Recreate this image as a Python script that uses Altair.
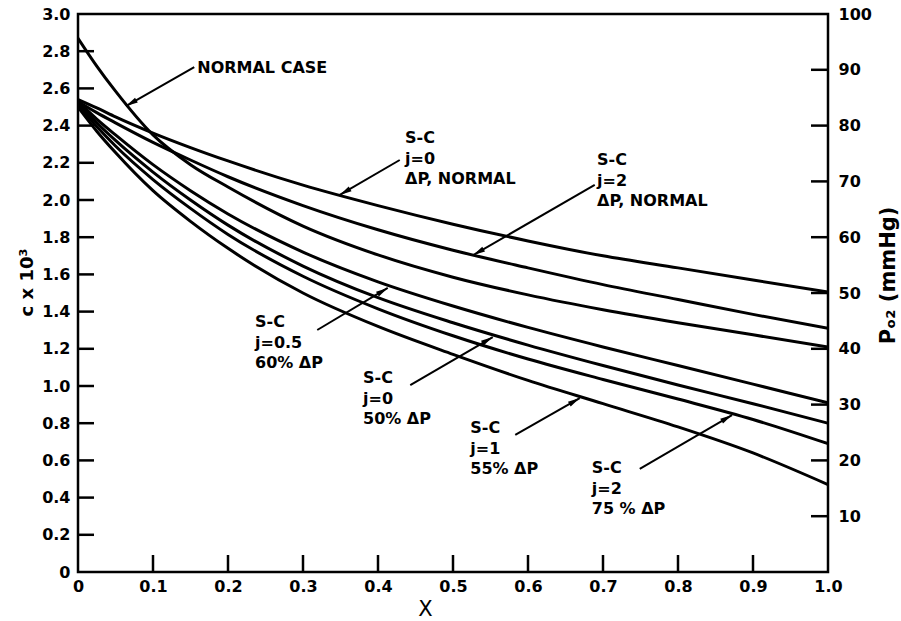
import math

import altair as alt
import pandas as pd

FONT = "DejaVu Sans"
W, H = 750, 558          # plot area in px
X_MAX, C_MAX = 1.0, 3.0

# ---- curve data: concentration c (x 10^3) along X -------------------------
X_POS = [0, 0.025, 0.05, 0.1, 0.15, 0.2, 0.3, 0.4, 0.5, 0.6, 0.7, 0.8, 0.9, 1.0]

SC_J0_NORMAL = [2.54, 2.495, 2.447, 2.36, 2.282, 2.21, 2.08, 1.97, 1.87, 1.78, 1.70, 1.635, 1.57, 1.505]
SC_J2_NORMAL = [2.53, 2.47, 2.415, 2.31, 2.215, 2.125, 1.97, 1.84, 1.73, 1.635, 1.545, 1.465, 1.385, 1.31]
NORMAL_CASE = [2.87, 2.72, 2.585, 2.35, 2.19, 2.07, 1.86, 1.705, 1.585, 1.49, 1.41, 1.34, 1.275, 1.21]
SC_J05_60 = [2.53, 2.435, 2.35, 2.19, 2.05, 1.925, 1.72, 1.56, 1.43, 1.315, 1.21, 1.11, 1.01, 0.91]
SC_J0_50 = [2.52, 2.415, 2.32, 2.15, 2.00, 1.865, 1.645, 1.475, 1.34, 1.22, 1.11, 1.005, 0.905, 0.80]
SC_J2_75 = [2.51, 2.395, 2.29, 2.11, 1.955, 1.815, 1.59, 1.415, 1.27, 1.145, 1.035, 0.93, 0.82, 0.69]
SC_J1_55 = [2.50, 2.37, 2.255, 2.05, 1.885, 1.74, 1.50, 1.32, 1.17, 1.03, 0.905, 0.78, 0.64, 0.47]

CURVE_NAMES = ["S-C j=0 dP normal", "S-C j=2 dP normal", "normal case",
               "S-C j=0.5 60% dP", "S-C j=0 50% dP", "S-C j=2 75% dP", "S-C j=1 55% dP"]
CURVE_VALUES = [SC_J0_NORMAL, SC_J2_NORMAL, NORMAL_CASE,
                SC_J05_60, SC_J0_50, SC_J2_75, SC_J1_55]

# ---- axis ticks --------------------------------------------------------------
X_TICKS = [0.0, 0.1, 0.2, 0.3, 0.4, 0.5, 0.6, 0.7, 0.8, 0.9, 1.0]
C_TICKS = [0.0, 0.2, 0.4, 0.6, 0.8, 1.0, 1.2, 1.4, 1.6, 1.8, 2.0,
           2.2, 2.4, 2.6, 2.8, 3.0]
P_TICKS = [10, 20, 30, 40, 50, 60, 70, 80, 90, 100]

# ---- annotations ---------------------------------------------------------------
LABEL_TEXT = [
    "NORMAL CASE",
    "S-C\nj=0\nΔP, NORMAL",
    "S-C\nj=2\nΔP, NORMAL",
    "S-C\nj=0.5\n60% ΔP",
    "S-C\nj=0\n50% ΔP",
    "S-C\nj=1\n55% ΔP",
    "S-C\nj=2\n75 % ΔP",
]
LABEL_X = [0.159, 0.436, 0.692, 0.236, 0.380, 0.523, 0.685]
LABEL_C = [2.683, 2.306, 2.188, 1.317, 1.016, 0.747, 0.532]

ARROW_X_TAIL = [0.155, 0.429, 0.689, 0.319, 0.443, 0.583, 0.749]
ARROW_C_TAIL = [2.715, 2.215, 2.081, 1.301, 1.005, 0.737, 0.554]
ARROW_X_TIP = [0.064, 0.349, 0.527, 0.413, 0.553, 0.669, 0.872]
ARROW_C_TIP = [2.505, 2.027, 1.704, 1.527, 1.263, 0.935, 0.844]

# ---- tables ------------------------------------------------------------------------
curve_rows = []
for name, vals in zip(CURVE_NAMES, CURVE_VALUES):
    for xv, cv in zip(X_POS, vals):
        curve_rows.append({"curve": name, "x": xv, "c": cv})
curves_df = pd.DataFrame(curve_rows)

labels_df = pd.DataFrame({"x": LABEL_X, "c": LABEL_C, "label": LABEL_TEXT})


def head_angle(x1, c1, x2, c2):
    """Clockwise screen angle (deg, 0 = up) of the segment tail -> tip."""
    dx = (x2 - x1) / X_MAX * W
    dy = -(c2 - c1) / C_MAX * H
    return math.degrees(math.atan2(dx, -dy)) % 360


arrows_df = pd.DataFrame({
    "x": ARROW_X_TAIL, "c": ARROW_C_TAIL,
    "x2": ARROW_X_TIP, "c2": ARROW_C_TIP,
})
arrows_df["angle"] = [head_angle(*r) for r in zip(ARROW_X_TAIL, ARROW_C_TAIL,
                                                   ARROW_X_TIP, ARROW_C_TIP)]

xs = alt.Scale(domain=[0, X_MAX], nice=False, zero=False)
ys = alt.Scale(domain=[0, C_MAX], nice=False, zero=False)
zero_fmt = "datum.value == 0 ? '0' : format(datum.value, '.1f')"

x_axis = alt.Axis(
    values=X_TICKS, tickCount=len(X_TICKS), labelExpr=zero_fmt, ticks=False,
    domain=False, grid=False,
    labelFont=FONT, labelFontWeight="bold", labelFontSize=16, labelColor="black",
    labelPadding=6, labelFlush=False, labelOverlap=False,
    title="X", titleFont=FONT, titleFontSize=21, titleFontWeight="normal",
    titleColor="black", titleX=347, titlePadding=4,
)
c_axis = alt.Axis(
    values=C_TICKS, tickCount=len(C_TICKS), labelExpr=zero_fmt, ticks=False,
    domain=False, grid=False,
    labelFont=FONT, labelFontWeight="bold", labelFontSize=16, labelColor="black",
    labelPadding=8, labelFlush=False, labelOverlap=False, labelBound=False,
    title="c x 10³", titleFont=FONT, titleFontSize=18, titleFontWeight="bold",
    titleColor="black", titlePadding=5, titleY=268,
)
p_axis = alt.Axis(
    orient="right", values=P_TICKS, tickCount=len(P_TICKS), format="d",
    ticks=False, domain=False,
    grid=False, labelFont=FONT, labelFontWeight="bold", labelFontSize=16,
    labelColor="black", labelPadding=10, labelFlush=False, labelOverlap=False,
    title="Pₒ₂ (mmHg)", titleFont=FONT, titleFontSize=21, titleFontWeight="bold",
    titleColor="black", titleAngle=270, titleBaseline="top", titlePadding=6,
    titleY=261,
)

lines = alt.Chart(curves_df).mark_line(
    interpolate="monotone", color="black", strokeWidth=3, clip=True
).encode(
    x=alt.X("x:Q", scale=xs, axis=x_axis),
    y=alt.Y("c:Q", scale=ys, axis=c_axis),
    detail="curve:N",
)

left_ticks = alt.Chart(pd.DataFrame({"c": C_TICKS[1:-1]})).mark_rule(
    color="black", strokeWidth=2.5
).encode(y=alt.Y("c:Q", scale=ys), x=alt.value(0), x2=alt.value(16))

bottom_ticks = alt.Chart(pd.DataFrame({"x": X_TICKS[1:-1]})).mark_rule(
    color="black", strokeWidth=2.5
).encode(x=alt.X("x:Q", scale=xs), y=alt.value(H), y2=alt.value(H - 17))

shafts = alt.Chart(arrows_df).mark_rule(color="black", strokeWidth=2).encode(
    x=alt.X("x:Q", scale=xs), y=alt.Y("c:Q", scale=ys),
    x2="x2:Q", y2="c2:Q",
)

heads = alt.Chart(arrows_df).mark_point(
    shape="M0,0L0.55,2.4L-0.55,2.4Z", filled=True, size=100,
    color="black", opacity=1, strokeWidth=0,
).encode(
    x=alt.X("x2:Q", scale=xs), y=alt.Y("c2:Q", scale=ys),
    angle=alt.Angle("angle:Q", scale=None),
)

texts = alt.Chart(labels_df).mark_text(
    align="left", baseline="alphabetic", font=FONT, fontWeight="bold",
    fontSize=16, lineBreak="\n", lineHeight=20.5, color="black",
).encode(
    x=alt.X("x:Q", scale=xs), y=alt.Y("c:Q", scale=ys),
    text="label:N",
)

main = alt.layer(lines, left_ticks, bottom_ticks, shafts, heads, texts)

right_ticks = alt.Chart(pd.DataFrame({"p": P_TICKS[:-1]})).mark_rule(
    color="black", strokeWidth=2.5
).encode(
    y=alt.Y("p:Q", scale=alt.Scale(domain=[0, 100], nice=False), axis=p_axis),
    x=alt.value(W - 17), x2=alt.value(W),
)

chart = alt.layer(main, right_ticks).resolve_scale(y="independent").properties(
    width=W, height=H,
    autosize=alt.AutoSizeParams(type="none"),
    padding={"left": 78, "top": 14, "right": 901 - 78 - W, "bottom": 621 - 14 - H},
    background="white",
).configure_view(
    stroke="black", strokeWidth=2.5
).configure_axis(
    labelOverlap=False
)

chart.save("out.html", embed_options={"renderer": "svg", "actions": False})
